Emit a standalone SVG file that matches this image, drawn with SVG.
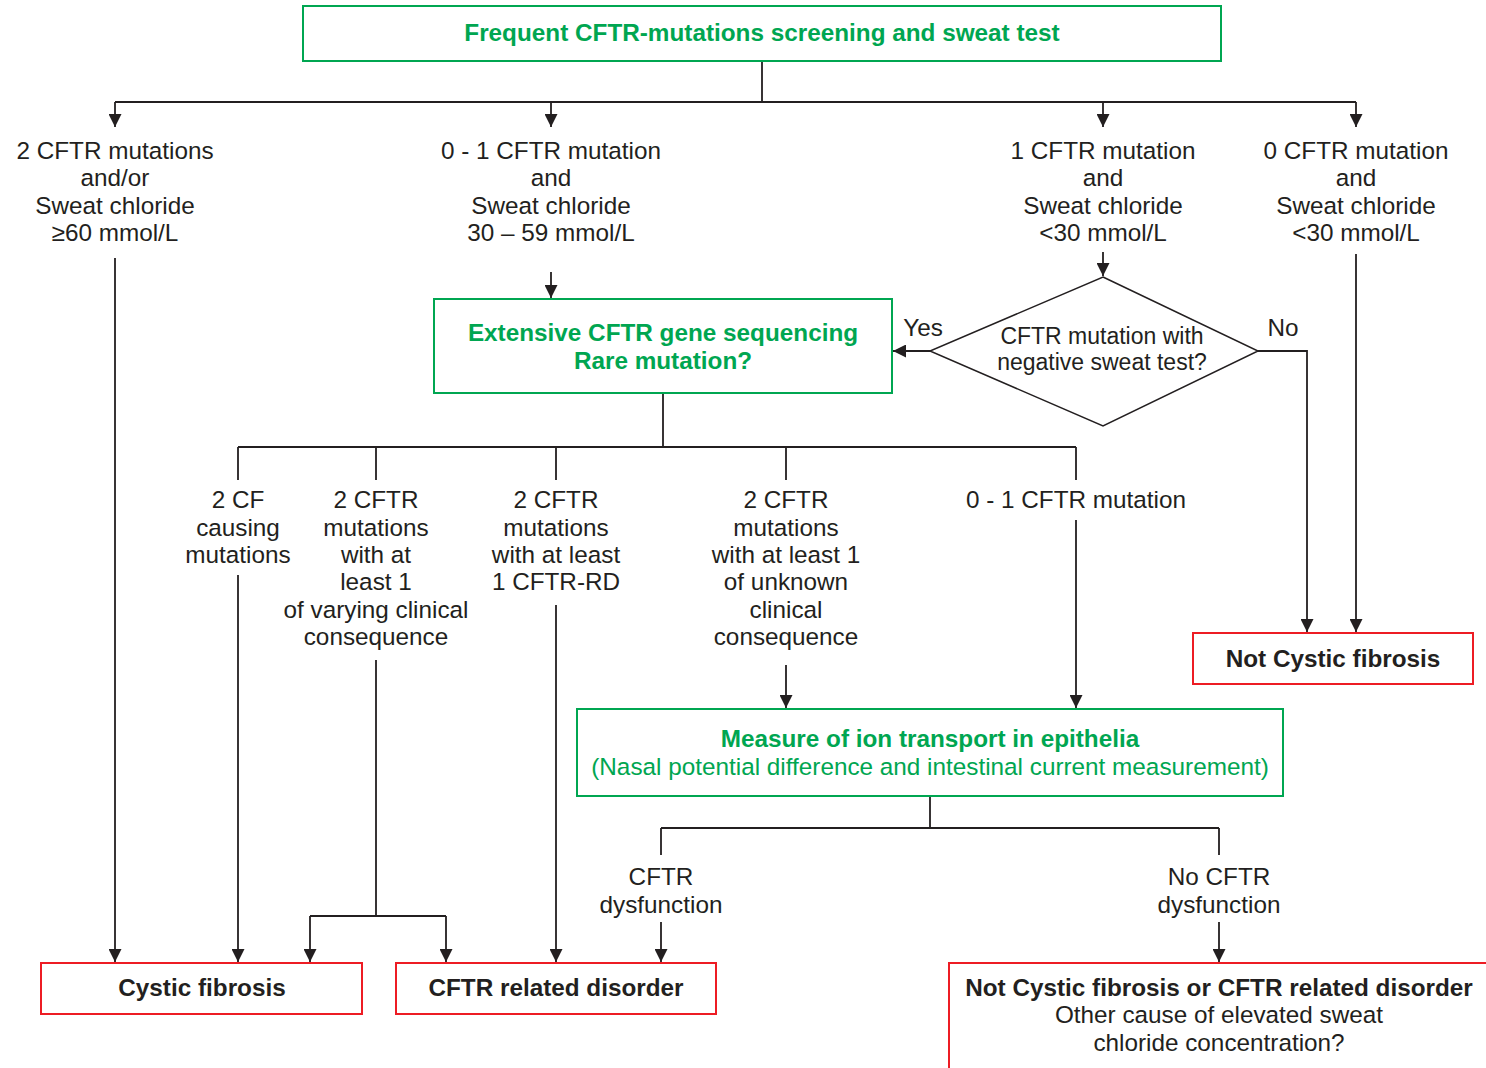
<svg xmlns="http://www.w3.org/2000/svg" width="1486" height="1068" viewBox="0 0 1486 1068">
<style>
.g{fill:none;stroke:#00a651;stroke-width:2}
.r{fill:none;stroke:#ed1c24;stroke-width:2}
.ln{fill:none;stroke:#231f20;stroke-width:1.8}
.a{marker-end:url(#ah)}
text{font-family:"Liberation Sans",Arial,sans-serif;text-anchor:middle;fill:#231f20}
.t{font-size:24.3px}
.d{font-size:23px}
.gb{font-size:24.3px;font-weight:bold;fill:#00a651}
.gt{font-size:24.3px;fill:#00a651}
.b{font-size:24.3px;font-weight:bold}
</style>
<defs>
<marker id="ah" markerWidth="13" markerHeight="13" refX="13" refY="6.5" orient="auto" markerUnits="userSpaceOnUse">
<path d="M0,0 L13,6.5 L0,13 z" fill="#231f20"/>
</marker>
</defs>
<g id="connectors">
<path class="ln" d="M762,61 V102 M115,102 H1356"/>
<path class="ln a" d="M115,102 V127"/>
<path class="ln a" d="M551,102 V127"/>
<path class="ln a" d="M1103,102 V127"/>
<path class="ln a" d="M1356,102 V127"/>
<path class="ln a" d="M115,258 V962"/>
<path class="ln a" d="M551,272 V298"/>
<path class="ln a" d="M1103,252 V276"/>
<path class="ln a" d="M930,351 H893"/>
<path class="ln a" d="M1258,351 H1307 V632"/>
<path class="ln a" d="M1356,254 V632"/>
<path class="ln" d="M663,393 V447 M238,447 H1076 M238,447 V480 M376,447 V480 M556,447 V480 M786,447 V480 M1076,447 V480"/>
<path class="ln a" d="M238,575 V962"/>
<path class="ln" d="M376,660 V916 M310,916 H446"/>
<path class="ln a" d="M310,916 V962"/>
<path class="ln a" d="M446,916 V962"/>
<path class="ln a" d="M556,605 V962"/>
<path class="ln a" d="M786,665 V708"/>
<path class="ln a" d="M1076,520 V708"/>
<path class="ln" d="M930,796 V828 M661,828 H1219 M661,828 V855 M1219,828 V855"/>
<path class="ln a" d="M661,922 V962"/>
<path class="ln a" d="M1219,922 V962"/>
</g>
<g id="top">
<rect class="g" x="303" y="6" width="918" height="55"/>
<text class="gb" x="762" y="41">Frequent CFTR-mutations screening and sweat test</text>
</g>
<g id="lbl1" class="t">
<text x="115" y="159">2 CFTR mutations</text>
<text x="115" y="186">and/or</text>
<text x="115" y="214">Sweat chloride</text>
<text x="115" y="241">≥60 mmol/L</text>
</g>
<g id="lbl2" class="t">
<text x="551" y="159">0 - 1 CFTR mutation</text>
<text x="551" y="186">and</text>
<text x="551" y="214">Sweat chloride</text>
<text x="551" y="241">30 – 59 mmol/L</text>
</g>
<g id="lbl3" class="t">
<text x="1103" y="159">1 CFTR mutation</text>
<text x="1103" y="186">and</text>
<text x="1103" y="214">Sweat chloride</text>
<text x="1103" y="241">&lt;30 mmol/L</text>
</g>
<g id="lbl4" class="t">
<text x="1356" y="159">0 CFTR mutation</text>
<text x="1356" y="186">and</text>
<text x="1356" y="214">Sweat chloride</text>
<text x="1356" y="241">&lt;30 mmol/L</text>
</g>
<g id="extensive">
<rect class="g" x="434" y="299" width="458" height="94"/>
<text class="gb" x="663" y="341">Extensive CFTR gene sequencing</text>
<text class="gb" x="663" y="369">Rare mutation?</text>
</g>
<g id="decision">
<path d="M1103,277 L1258,351 L1103,426 L930,351 Z" fill="none" stroke="#231f20" stroke-width="1.5"/>
<text class="d" x="1102" y="344">CFTR mutation with</text>
<text class="d" x="1102" y="370">negative sweat test?</text>
<text class="t" x="923" y="336">Yes</text>
<text class="t" x="1283" y="336">No</text>
</g>
<g id="notcf">
<rect class="r" x="1193" y="633" width="280" height="51"/>
<text class="b" x="1333" y="667">Not Cystic fibrosis</text>
</g>
<g id="m1" class="t">
<text x="238" y="508">2 CF</text>
<text x="238" y="536">causing</text>
<text x="238" y="563">mutations</text>
</g>
<g id="m2" class="t">
<text x="376" y="508">2 CFTR</text>
<text x="376" y="536">mutations</text>
<text x="376" y="563">with at</text>
<text x="376" y="590">least 1</text>
<text x="376" y="618">of varying clinical</text>
<text x="376" y="645">consequence</text>
</g>
<g id="m3" class="t">
<text x="556" y="508">2 CFTR</text>
<text x="556" y="536">mutations</text>
<text x="556" y="563">with at least</text>
<text x="556" y="590">1 CFTR-RD</text>
</g>
<g id="m4" class="t">
<text x="786" y="508">2 CFTR</text>
<text x="786" y="536">mutations</text>
<text x="786" y="563">with at least 1</text>
<text x="786" y="590">of unknown</text>
<text x="786" y="618">clinical</text>
<text x="786" y="645">consequence</text>
</g>
<g id="m5" class="t">
<text x="1076" y="508">0 - 1 CFTR mutation</text>
</g>
<g id="measure">
<rect class="g" x="577" y="709" width="706" height="87"/>
<text class="gb" x="930" y="747">Measure of ion transport in epithelia</text>
<text class="gt" x="930" y="775">(Nasal potential difference and intestinal current measurement)</text>
</g>
<g id="dys" class="t">
<text x="661" y="885">CFTR</text>
<text x="661" y="913">dysfunction</text>
</g>
<g id="nodys" class="t">
<text x="1219" y="885">No CFTR</text>
<text x="1219" y="913">dysfunction</text>
</g>
<g id="cf">
<rect class="r" x="41" y="963" width="321" height="51"/>
<text class="b" x="202" y="996">Cystic fibrosis</text>
</g>
<g id="crd">
<rect class="r" x="396" y="963" width="320" height="51"/>
<text class="b" x="556" y="996">CFTR related disorder</text>
</g>
<g id="other">
<path class="r" d="M1486,963 H949 V1068"/>
<text class="b" x="1219" y="996">Not Cystic fibrosis or CFTR related disorder</text>
<text class="t" x="1219" y="1023">Other cause of elevated sweat</text>
<text class="t" x="1219" y="1051">chloride concentration?</text>
</g>
</svg>
